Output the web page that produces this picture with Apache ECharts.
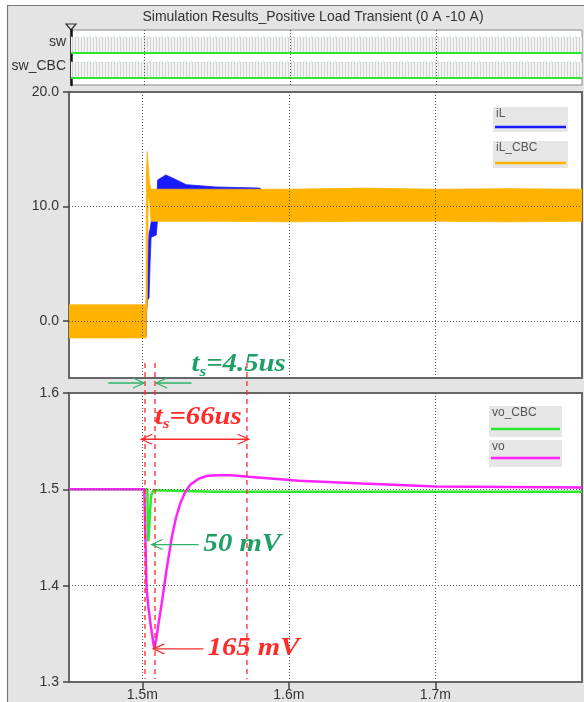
<!DOCTYPE html>
<html>
<head>
<meta charset="utf-8">
<script src="https://cdn.jsdelivr.net/npm/echarts@6.0.0/dist/echarts.min.js"></script>
<style>
html,body{margin:0;padding:0;background:#e4e4e4;}
#main{width:584px;height:702px;}
</style>
</head>
<body>
<div id="main"></div>
<script>
// time axis, ms (labels get an "m" suffix)
var xMin = 1.45, xMax = 1.8;
var xTicks = [1.5, 1.6, 1.7];

// switch nodes, digital lanes (arbitrary units): [low, high]
var swLevels    = [6.4, 9.6];
var swCbcLevels = [1.4, 4.6];
var swLabelPos  = [8.6, 3.8];

// iL ripple envelope (A)
var ilT    = [1.450, 1.5026, 1.5030, 1.5036, 1.5046, 1.5053, 1.5060, 1.5095, 1.5105, 1.5160, 1.5220, 1.5300, 1.5500, 1.5800, 1.5820, 1.800];
var ilLow  = [-1.4, -1.4, 1.0, 1.8, 2.0, 5.0, 7.3, 7.5, 9.0, 9.0, 9.0, 9.0, 9.0, 9.0, 9.0, 9.0];
var ilHigh = [1.3, 1.3, 2.5, 5.0, 7.7, 8.0, 8.6, 10.0, 12.3, 12.75, 12.4, 11.9, 11.7, 11.6, 11.4, 11.4];

// iL_CBC ripple envelope (A)
var cbcT    = [1.450, 1.5026, 1.5028, 1.5034, 1.5040, 1.5050, 1.5060, 1.550, 1.600, 1.650, 1.700, 1.750, 1.800];
var cbcLow  = [-1.5, -1.5, 0.5, 1.5, 11.0, 10.5, 8.7, 8.7, 8.65, 8.7, 8.7, 8.65, 8.7];
var cbcHigh = [1.4, 1.4, 13.0, 14.8, 13.6, 12.0, 11.5, 11.5, 11.5, 11.6, 11.5, 11.55, 11.5];

// vo (V)
var voT = [1.450, 1.5014, 1.5018, 1.5021, 1.5029, 1.5040, 1.5053, 1.5075, 1.5082, 1.5096, 1.5110, 1.5132, 1.5164, 1.5201, 1.5229, 1.5258, 1.5292, 1.5329, 1.5384, 1.5438, 1.5500, 1.5610, 1.5726, 1.6068, 1.650, 1.700, 1.750, 1.800];
var voV = [1.500, 1.500, 1.470, 1.450, 1.398, 1.380, 1.364, 1.341, 1.335, 1.345, 1.360, 1.381, 1.415, 1.450, 1.470, 1.485, 1.497, 1.505, 1.511, 1.5138, 1.5146, 1.5146, 1.513, 1.509, 1.506, 1.503, 1.5025, 1.502];

// vo_CBC (V)
var voCbcT = [1.450, 1.5035, 1.5037, 1.5040, 1.5045, 1.5052, 1.5060, 1.5075, 1.550, 1.600, 1.700, 1.800];
var voCbcV = [1.500, 1.500, 1.470, 1.446, 1.452, 1.475, 1.493, 1.499, 1.4975, 1.4975, 1.4975, 1.4975];

// annotation marks
var redLines = [1.50185, 1.5087, 1.5714];

var chart = echarts.init(document.getElementById('main'));

var C_IL = '#1a1aff', C_CBC = '#ffb300', C_VO = '#ff22ff', C_VOCBC = '#2ee82e';
var sans = "'Liberation Sans', Arial, sans-serif";
var serif = "'Liberation Serif', 'DejaVu Serif', serif";

// light vertical stripes for the switch node bands
var stripe = document.createElement('canvas');
stripe.width = 3; stripe.height = 4;
var sctx = stripe.getContext('2d');
sctx.fillStyle = '#f3f3f3'; sctx.fillRect(0, 0, 3, 4);
sctx.fillStyle = '#d3d3d3'; sctx.fillRect(0, 0, 1, 4);

function pairs(t, v) {
    return t.map(function (x, i) { return [x, v[i]]; });
}

function gridLines(idx, ys) {
    var d = xTicks.map(function (x) { return {xAxis: x}; });
    ys.forEach(function (y) { d.push({yAxis: y}); });
    return {
        type: 'line', xAxisIndex: idx, yAxisIndex: idx, data: [], z: 1, silent: true,
        markLine: {
            silent: true, symbol: ['none', 'none'], label: {show: false},
            lineStyle: {color: '#555', width: 1, type: [1, 2]},
            data: d
        }
    };
}

// filled envelope between lo and hi, drawn as one polygon through the axis scales
function band(idx, t, lo, hi, fill, stroke, z) {
    return {
        type: 'custom', xAxisIndex: idx, yAxisIndex: idx, z: z, silent: true, clip: true,
        data: t.map(function (x, i) { return [x, lo[i], hi[i]]; }),
        encode: {x: 0, y: [1, 2]},
        renderItem: function (params, api) {
            if (params.dataIndex !== 0) return null;
            var pts = [], i;
            for (i = 0; i < t.length; i++) pts.push(api.coord([t[i], hi[i]]));
            for (i = t.length - 1; i >= 0; i--) pts.push(api.coord([t[i], lo[i]]));
            return {type: 'polygon', shape: {points: pts},
                style: {fill: fill, stroke: stroke, lineWidth: stroke ? 0.8 : 0}};
        }
    };
}

function lane(levels) {
    var t = [xMin, xMax];
    return [
        band(0, t, [levels[0], levels[0]], [levels[1], levels[1]], {image: stripe, repeat: 'repeat'}, null, 2),
        {type: 'line', xAxisIndex: 0, yAxisIndex: 0, z: 3, symbol: 'none', silent: true,
            data: [[xMin, levels[1]], [xMax, levels[1]]], lineStyle: {color: '#8fe3ec', width: 1, type: [1, 5]}},
        {type: 'line', xAxisIndex: 0, yAxisIndex: 0, z: 4, symbol: 'none', silent: true,
            data: [[xMin, levels[0]], [xMax, levels[0]]], lineStyle: {color: C_VOCBC, width: 2}}
    ];
}

var series = [gridLines(0, [])]
    .concat(lane(swLevels))
    .concat(lane(swCbcLevels))
    .concat([
        gridLines(1, [0, 10]),
        band(1, ilT, ilLow, ilHigh, C_IL, C_IL, 2),
        band(1, cbcT, cbcLow, cbcHigh, C_CBC, C_CBC, 3),
        gridLines(2, [1.4, 1.5]),
        {name: 'vo_CBC', type: 'line', xAxisIndex: 2, yAxisIndex: 2, z: 2, symbol: 'none',
            data: pairs(voCbcT, voCbcV), lineStyle: {color: C_VOCBC, width: 2.5}},
        {name: 'vo', type: 'line', xAxisIndex: 2, yAxisIndex: 2, z: 3, symbol: 'none',
            data: pairs(voT, voV), lineStyle: {color: C_VO, width: 2.5}}
    ]);

function hiddenX(i) {
    return {type: 'value', gridIndex: i, min: xMin, max: xMax, show: false, splitLine: {show: false}};
}

var option = {
    animation: false,
    backgroundColor: '#e4e4e4',
    title: {
        text: 'Simulation Results_Positive Load Transient (0 A -10 A)',
        left: 308, top: 5, textAlign: 'center',
        textStyle: {fontSize: 14, fontWeight: 'normal', color: '#333', fontFamily: sans}
    },
    grid: [
        {left: 71, right: 2, top: 30, height: 55, show: true, backgroundColor: '#fff', borderColor: '#888', borderWidth: 1},
        {left: 69, right: 2, top: 92, height: 286, show: true, backgroundColor: '#fff', borderColor: '#666', borderWidth: 2},
        {left: 69, right: 2, top: 393, height: 289, show: true, backgroundColor: '#fff', borderColor: '#666', borderWidth: 2}
    ],
    xAxis: [hiddenX(0), hiddenX(1), {
        type: 'value', gridIndex: 2, min: xMin, max: xMax,
        axisLine: {show: false},
        axisTick: {show: true, customValues: xTicks, length: 7, lineStyle: {color: '#444', width: 1.5}},
        axisLabel: {customValues: xTicks, margin: 6, fontSize: 14, color: '#333', fontFamily: sans,
            formatter: function (v) { return v.toFixed(1) + 'm'; }},
        splitLine: {show: false}
    }],
    yAxis: [{
        type: 'value', gridIndex: 0, min: 0, max: 11,
        axisLine: {show: true, lineStyle: {color: '#111', width: 2.5}},
        axisTick: {show: false},
        axisLabel: {customValues: swLabelPos, margin: 5, fontSize: 14, color: '#333', fontFamily: sans,
            formatter: function (v) { return v > 6 ? 'sw' : 'sw_CBC'; }},
        splitLine: {show: false}
    }, {
        type: 'value', gridIndex: 1, min: -5, max: 20,
        axisLine: {show: false},
        axisTick: {show: true, customValues: [0, 10, 20], length: 6, lineStyle: {color: '#444', width: 1.5}},
        axisLabel: {customValues: [0, 10, 20], margin: 10, fontSize: 14, color: '#333', fontFamily: sans,
            formatter: function (v) { return v.toFixed(1); }},
        splitLine: {show: false}
    }, {
        type: 'value', gridIndex: 2, min: 1.3, max: 1.6, interval: 0.1,
        axisLine: {show: false},
        axisTick: {show: true, length: 6, lineStyle: {color: '#444', width: 1.5}},
        axisLabel: {margin: 10, fontSize: 14, color: '#333', fontFamily: sans,
            formatter: function (v) { return v.toFixed(1); }},
        splitLine: {show: false}
    }],
    series: series
};
chart.setOption(option);

// ---- annotations, placed through the bottom panel's scales
function px(x, y) { return chart.convertToPixel({gridIndex: 2}, [x, y]); }

var g = [];
var top3 = px(xMin, 1.6)[1];
var bot3 = px(xMin, 1.3)[1];

// frame + white margins
g.push({type: 'rect', shape: {x: 0, y: 0, width: 7, height: 702}, style: {fill: '#fff'}, silent: true});
g.push({type: 'rect', shape: {x: 0, y: 0, width: 584, height: 5}, style: {fill: '#fff'}, silent: true});
g.push({type: 'rect', shape: {x: 7.5, y: 5.5, width: 580, height: 700}, style: {fill: 'none', stroke: '#777', lineWidth: 1.2}, silent: true});
// marker on top of the switch axis
g.push({type: 'polygon', shape: {points: [[66, 24], [76, 24], [71, 30]]}, style: {fill: 'none', stroke: '#333', lineWidth: 1.2}});

function arrow(x1, x2, y, color, both) {
    var out = [{type: 'line', shape: {x1: x1, y1: y, x2: x2, y2: y}, style: {stroke: color, lineWidth: 1.3}, z: 20}];
    function head(tip, dir) {
        out.push({type: 'polyline', shape: {points: [[tip - dir * 11, y - 5], [tip, y], [tip - dir * 11, y + 5]]},
            style: {fill: 'none', stroke: color, lineWidth: 1.3}, z: 20});
    }
    head(x2, x2 > x1 ? 1 : -1);
    if (both) head(x1, x1 > x2 ? 1 : -1);
    return out;
}

var RED = '#ff2a2a', GREEN = '#2bb56a', GTEXT = '#1f9e66';
var SX = 1.15;

redLines.forEach(function (t) {
    var x = px(t, 1.5)[0];
    g.push({type: 'line', shape: {x1: x, y1: top3 - 30, x2: x, y2: bot3 - 3},
        style: {stroke: RED, lineWidth: 1.3, lineDash: [5, 4]}, z: 20});
});

// t_s = 4.5us arrows in the gap between the panels
var gy = top3 - 10;
g = g.concat(arrow(px(1.4767, 1.5)[0], px(redLines[0], 1.5)[0] - 1, gy, GREEN));
g = g.concat(arrow(px(1.5336, 1.5)[0], px(redLines[1], 1.5)[0] + 1, gy, GREEN));

function tsText(label, x, y, color) {
    var base = {fontFamily: serif, fontStyle: 'italic', fontWeight: 'bold', fill: color};
    return {
        type: 'text', z: 21, x: x, y: y, scaleX: SX,
        style: {
            text: '{t|t}{s|s}{r|' + label + '}', x: 0, y: 0, textVerticalAlign: 'middle',
            rich: {
                t: Object.assign({fontSize: 25, lineHeight: 30}, base),
                s: Object.assign({fontSize: 15, lineHeight: 16, verticalAlign: 'bottom'}, base),
                r: Object.assign({fontSize: 25, lineHeight: 30}, base)
            }
        }
    };
}
g.push(tsText('=4.5us', px(1.5336, 1.5)[0], top3 - 28, GTEXT));

// t_s = 66us
var p66 = px(1.5085, 1.575);
g.push(tsText('=66us', p66[0], p66[1], RED));
var yd = px(xMin, 1.552)[1];
g = g.concat(arrow(px(1.4993, 1.5)[0], px(1.5726, 1.5)[0], yd, RED, true));

// undershoot labels
function dropText(label, x, y, color) {
    return {type: 'text', z: 21, x: x, y: y, scaleX: SX,
        style: {text: label, x: 0, y: 0, textVerticalAlign: 'middle',
            font: 'italic bold 25px ' + serif, fill: color}};
}
var y50 = px(xMin, 1.4427)[1];
g = g.concat(arrow(px(1.5384, 1.5)[0], px(1.5064, 1.5)[0], y50, GREEN));
g.push(dropText('50 mV', px(1.5418, 1.5)[0], y50, GTEXT));
var y165 = px(xMin, 1.3344)[1];
g = g.concat(arrow(px(1.5418, 1.5)[0], px(1.5075, 1.5)[0], y165, RED));
g.push(dropText('165 mV', px(1.5445, 1.5)[0], y165, RED));

// legend boxes
function legendBox(x, y, w, h, name, color, lineY) {
    return [
        {type: 'rect', shape: {x: x, y: y, width: w, height: h}, style: {fill: '#e6e6e6'}, z: 15},
        {type: 'text', style: {text: name, x: x + 3, y: y + 1, font: '12px ' + sans, fill: '#555'}, z: 16},
        {type: 'line', shape: {x1: x + 2, y1: lineY, x2: x + w - 2, y2: lineY}, style: {stroke: color, lineWidth: 2.5}, z: 16}
    ];
}
g = g.concat(legendBox(493, 107, 75, 25, 'iL', C_IL, 127));
g = g.concat(legendBox(493, 141, 75, 27, 'iL_CBC', C_CBC, 163));
g = g.concat(legendBox(489, 406, 73, 31, 'vo_CBC', C_VOCBC, 429));
g = g.concat(legendBox(489, 440, 73, 27, 'vo', C_VO, 458));

chart.setOption({graphic: g});
</script>
</body>
</html>
